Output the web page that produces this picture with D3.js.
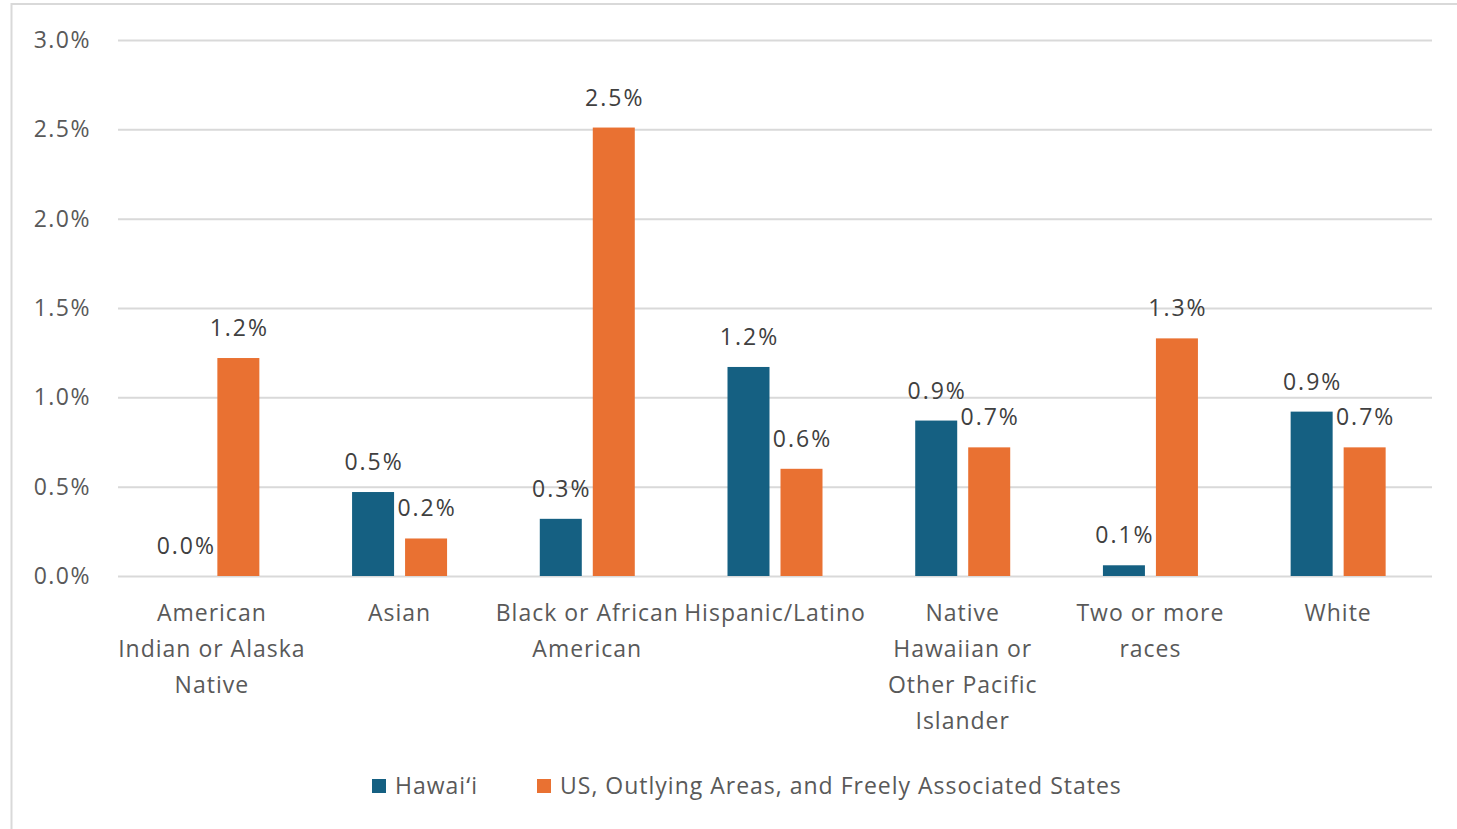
<!DOCTYPE html>
<html>
<head>
<meta charset="utf-8">
<script src="https://cdn.jsdelivr.net/npm/d3@7"></script>
<style>
  html, body { margin: 0; padding: 0; background: #fff; }
  svg { display: block; }
  text { font-family: "Open Sans", "Noto Sans", sans-serif; }
</style>
</head>
<body>
<svg id="chart" width="1457" height="829"></svg>
<script>
const categories = [
  "American Indian or Alaska Native",
  "Asian",
  "Black or African American",
  "Hispanic/Latino",
  "Native Hawaiian or Other Pacific Islander",
  "Two or more races",
  "White"
];
const categoryLines = [
  ["American", "Indian or Alaska", "Native"],
  ["Asian"],
  ["Black or African", "American"],
  ["Hispanic/Latino"],
  ["Native", "Hawaiian or", "Other Pacific", "Islander"],
  ["Two or more", "races"],
  ["White"]
];
const seriesNames = ["Hawaiʻi", "US, Outlying Areas, and Freely Associated States"];
const hawaiiValues = [0.000, 0.0047, 0.0032, 0.0117, 0.0087, 0.0006, 0.0092];
const usValues     = [0.0122, 0.0021, 0.0251, 0.0060, 0.0072, 0.0133, 0.0072];
const yTicks = [0, 0.005, 0.01, 0.015, 0.02, 0.025, 0.03];
const colors = ["#156082", "#E97132"];

const svg = d3.select("#chart");
const mLeft = 118, mRight = 1432, mTop = 40, mBottom = 576;

// border
svg.append("line").attr("x1", 11.5).attr("x2", 11.5).attr("y1", 3).attr("y2", 829)
  .attr("stroke", "#d9d9d9").attr("stroke-width", 2);
svg.append("line").attr("x1", 11).attr("x2", 1457).attr("y1", 4).attr("y2", 4)
  .attr("stroke", "#d9d9d9").attr("stroke-width", 2);

const x0 = d3.scaleBand().domain(categories).range([mLeft, mRight]).paddingInner(0).paddingOuter(0);
const groupW = 95;
const x1 = d3.scaleBand().domain([0, 1])
  .range([x0.bandwidth() / 2 - groupW / 2, x0.bandwidth() / 2 + groupW / 2])
  .paddingInner(0.2075).paddingOuter(0);
const y = d3.scaleLinear().domain([0, 0.03]).range([mBottom, mTop]);
const fmt = d3.format(".1%");

// gridlines + y labels via axis
const yAxis = d3.axisLeft(y).tickValues(yTicks).tickFormat(fmt).tickSize(-(mRight - mLeft)).tickPadding(27);
const gy = svg.append("g").attr("transform", `translate(${mLeft},0)`).call(yAxis);
gy.select(".domain").remove();
gy.selectAll(".tick line").attr("stroke", "#d9d9d9").attr("stroke-width", 2);
gy.selectAll(".tick text").attr("fill", "#595959").attr("font-size", 23)
  .attr("letter-spacing", 1.5)
  .style("font-family", "'Open Sans', sans-serif");

// bars
const data = categories.map((c, i) => ({ c, i, vals: [hawaiiValues[i], usValues[i]] }));
const groups = svg.append("g").selectAll("g").data(data).join("g")
  .attr("transform", d => `translate(${x0(d.c)},0)`);
groups.selectAll("rect").data(d => d.vals.map((v, s) => ({ v, s }))).join("rect")
  .attr("x", d => x1(d.s)).attr("width", x1.bandwidth())
  .attr("y", d => y(d.v)).attr("height", d => y(0) - y(d.v))
  .attr("fill", d => colors[d.s]);
groups.selectAll("text.lbl").data(d => d.vals.map((v, s) => ({ v, s }))).join("text")
  .attr("class", "lbl")
  .attr("x", d => x1(d.s) + x1.bandwidth() / 2 + 1)
  .attr("y", d => y(d.v) - 22)
  .attr("text-anchor", "middle")
  .attr("font-size", 23).attr("letter-spacing", 2).attr("fill", "#404040")
  .text(d => fmt(d.v));

// category labels
const gx = svg.append("g").selectAll("text").data(data).join("text")
  .attr("x", d => x0(d.c) + x0.bandwidth() / 2)
  .attr("y", 621)
  .attr("text-anchor", "middle").attr("font-size", 23).attr("letter-spacing", 1)
  .attr("fill", "#595959");
gx.selectAll("tspan").data(d => categoryLines[d.i].map(t => ({ t, x: x0(d.c) + x0.bandwidth() / 2 })))
  .join("tspan").attr("x", d => d.x).attr("dy", (d, k) => k === 0 ? 0 : 36).text(d => d.t);

// legend
const legendX = [372, 537];
const lg = svg.append("g").selectAll("g").data(seriesNames).join("g")
  .attr("transform", (d, i) => `translate(${legendX[i]},779)`);
lg.append("rect").attr("width", 14).attr("height", 14).attr("fill", (d, i) => colors[i]);
lg.append("text").attr("x", 23).attr("y", 15).attr("font-size", 23).attr("letter-spacing", 1)
  .attr("fill", "#595959").text(d => d);
</script>
</body>
</html>
